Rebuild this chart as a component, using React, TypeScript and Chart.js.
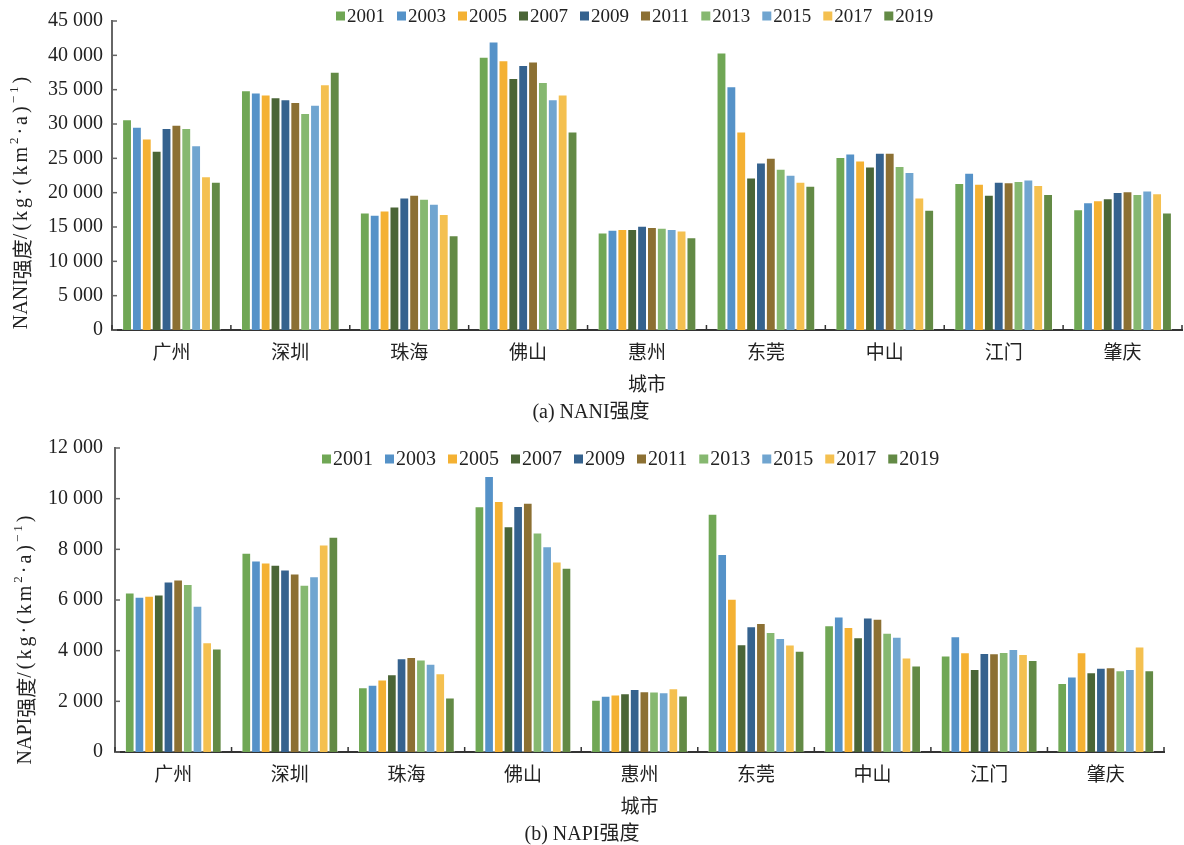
import React, { useEffect, useRef } from 'react';
import { Chart, registerables } from 'chart.js';
Chart.register(...registerables);

const cities = ['广州', '深圳', '珠海', '佛山', '惠州', '东莞', '中山', '江门', '肇庆'];
const years = ['2001', '2003', '2005', '2007', '2009', '2011', '2013', '2015', '2017', '2019'];
const colors = ['#70a755', '#5592c8', '#f4b133', '#4a6536', '#35628e', '#8c7033', '#86b870', '#70a5d0', '#f4c050', '#638a45'];

// NANI intensity, kg/(km²·a) — cities order as above
const nani2001 = [30700, 34900, 17100, 39800, 14200, 40400, 25200, 21400, 17600];
const nani2003 = [29600, 34600, 16800, 42000, 14600, 35500, 25700, 22900, 18600];
const nani2005 = [27900, 34300, 17400, 39300, 14700, 28900, 24700, 21300, 18900];
const nani2007 = [26100, 33900, 18000, 36700, 14700, 22200, 23800, 19700, 19200];
const nani2009 = [29400, 33600, 19300, 38600, 15200, 24400, 25800, 21600, 20100];
const nani2011 = [29900, 33200, 19700, 39100, 15000, 25100, 25800, 21500, 20200];
const nani2013 = [29400, 31600, 19100, 36100, 14900, 23500, 23900, 21700, 19800];
const nani2015 = [26900, 32800, 18400, 33600, 14700, 22600, 23000, 21900, 20300];
const nani2017 = [22400, 35800, 16900, 34300, 14500, 21600, 19300, 21100, 19900];
const nani2019 = [21600, 37600, 13800, 28900, 13500, 21000, 17500, 19800, 17100];
const naniSeries = [nani2001, nani2003, nani2005, nani2007, nani2009, nani2011, nani2013, nani2015, nani2017, nani2019];

// NAPI intensity
const napi2001 = [6300, 7870, 2560, 9700, 2060, 9400, 5000, 3810, 2720];
const napi2003 = [6130, 7560, 2650, 10890, 2220, 7820, 5350, 4570, 2980];
const napi2005 = [6170, 7480, 2860, 9910, 2270, 6050, 4930, 3940, 3940];
const napi2007 = [6220, 7390, 3070, 8910, 2320, 4250, 4530, 3280, 3150];
const napi2009 = [6730, 7200, 3700, 9710, 2490, 4960, 5310, 3910, 3330];
const napi2011 = [6810, 7050, 3750, 9840, 2400, 5090, 5260, 3900, 3350];
const napi2013 = [6630, 6600, 3650, 8660, 2390, 4740, 4710, 3950, 3230];
const napi2015 = [5770, 6940, 3480, 8120, 2360, 4500, 4550, 4070, 3280];
const napi2017 = [4330, 8190, 3110, 7520, 2520, 4240, 3730, 3870, 4160];
const napi2019 = [4090, 8500, 2150, 7270, 2230, 4000, 3410, 3630, 3230];
const napiSeries = [napi2001, napi2003, napi2005, napi2007, napi2009, napi2011, napi2013, napi2015, napi2017, napi2019];

const SERIF = "'Liberation Serif', 'Noto Sans CJK SC', serif";
const CJK = "'Noto Sans CJK SC', 'Liberation Serif', sans-serif";
const TEXT = '#222';

const fmt = (v: number) => String(v).replace(/\B(?=(\d{3})+(?!\d))/g, ' ');

const decorPlugin = {
  id: 'decor',
  afterDraw(chart: any, _args: any, opts: any) {
    const ctx = chart.ctx as CanvasRenderingContext2D;
    const { left, right, bottom } = chart.chartArea;
    ctx.save();
    // inward y ticks
    const ys = chart.scales.y;
    ctx.strokeStyle = '#666';
    ctx.lineWidth = 1.5;
    ys.ticks.forEach((t: any) => {
      const py = ys.getPixelForValue(t.value);
      ctx.beginPath();
      ctx.moveTo(left, py);
      ctx.lineTo(left + 5, py);
      ctx.stroke();
    });
    // inward x ticks at category boundaries
    const n = chart.data.labels.length;
    const w = (right - left) / n;
    ctx.strokeStyle = '#333';
    for (let i = 0; i <= n; i++) {
      const px = left + i * w;
      ctx.beginPath();
      ctx.moveTo(px, bottom);
      ctx.lineTo(px, bottom - 5);
      ctx.stroke();
    }
    // legend
    const fs = opts.legendFont;
    ctx.font = `${fs}px ${SERIF}`;
    ctx.textBaseline = 'middle';
    ctx.textAlign = 'left';
    const box = 9, gap = 2, spacing = opts.legendSpacing;
    const items = chart.data.datasets.map((d: any) => ({ label: d.label, color: d.backgroundColor, w: ctx.measureText(d.label).width }));
    let x = opts.legendX;
    const ly = opts.legendY;
    items.forEach((it: any) => {
      ctx.fillStyle = it.color;
      ctx.fillRect(x, ly - box / 2, box, box);
      x += box + gap;
      ctx.fillStyle = TEXT;
      ctx.fillText(it.label, x, ly + 1);
      x += it.w + spacing;
    });
    // rotated y title
    const parts = opts.titleParts as { t: string; font: string; sup?: boolean; track?: number }[];
    const measure = (p: any) => {
      ctx.font = p.font;
      (ctx as any).letterSpacing = `${p.track || 0}px`;
      return ctx.measureText(p.t).width;
    };
    const widths = parts.map(measure);
    const L = widths.reduce((a, b) => a + b, 0);
    ctx.translate(opts.titleX, opts.titleY);
    ctx.rotate(-Math.PI / 2);
    let tx = -L / 2;
    ctx.fillStyle = TEXT;
    parts.forEach((p, i) => {
      ctx.font = p.font;
      (ctx as any).letterSpacing = `${p.track || 0}px`;
      ctx.fillText(p.t, tx, p.sup ? -6 : 1);
      tx += widths[i];
    });
    ctx.restore();
  },
};

type Geo = { top: number; h: number; left: number; padRight: number; padTop: number; tickPad: number; legendY: number; legendX: number; legendFont: number; legendSpacing: number; titleX: number; titleY: number };

function titleParts(name: string) {
  const fs = 20;
  const tr = 3;
  return [
    { t: name, font: `${fs}px ${SERIF}` },
    { t: '强度', font: `${fs}px ${CJK}` },
    { t: '/(kg·(km', font: `${fs}px ${SERIF}`, track: tr },
    { t: '2', font: `${13}px ${SERIF}`, sup: true, track: tr },
    { t: '·a)', font: `${fs}px ${SERIF}`, track: tr },
    { t: '−1', font: `${13}px ${SERIF}`, sup: true, track: tr },
    { t: ')', font: `${fs}px ${SERIF}` },
  ];
}

function BarChart({ series, yMax, yStep, name, caption, geo }: { series: number[][]; yMax: number; yStep: number; name: string; caption: string; geo: Geo }) {
  const ref = useRef<HTMLCanvasElement>(null);
  useEffect(() => {
    const chart = new Chart(ref.current as HTMLCanvasElement, {
      type: 'bar',
      data: {
        labels: cities,
        datasets: years.map((yr, i) => ({
          label: yr,
          data: series[i],
          backgroundColor: colors[i],
          borderColor: 'rgba(255,255,255,0.55)',
          borderWidth: 1,
          categoryPercentage: 0.83,
          barPercentage: 1,
        })),
      },
      options: {
        responsive: false,
        animation: false,
        devicePixelRatio: 1,
        layout: { padding: { left: 0, right: geo.padRight, top: geo.padTop, bottom: 0 } },
        plugins: {
          legend: { display: false },
          tooltip: { enabled: false },
          title: {
            display: true,
            position: 'bottom',
            text: caption,
            color: TEXT,
            font: { family: SERIF, size: 20, weight: 'normal' },
            padding: { top: 4, bottom: 0 },
          },
          decor: {
            legendY: geo.legendY,
            legendX: geo.legendX,
            legendFont: geo.legendFont,
            legendSpacing: geo.legendSpacing,
            titleX: geo.titleX,
            titleY: geo.titleY,
            titleParts: titleParts(name),
          },
        } as any,
        scales: {
          x: {
            grid: { display: false, drawTicks: false },
            border: { display: true, color: '#333', width: 2 },
            ticks: { color: TEXT, font: { family: CJK, size: 19 }, padding: 10 },
            title: { display: true, text: '城市', color: TEXT, font: { family: CJK, size: 19 }, padding: { top: 0, bottom: 2 } },
            afterFit: (s: any) => { s.height = 67; },
          },
          y: {
            min: 0,
            max: yMax,
            grid: { display: false, drawTicks: false },
            border: { display: true, color: '#666', width: 2 },
            ticks: { stepSize: yStep, color: TEXT, font: { family: SERIF, size: 20 }, padding: geo.tickPad, callback: (v: any) => fmt(Number(v)) },
            afterFit: (s: any) => { s.width = geo.left; },
          },
        } as any,
      },
      plugins: [decorPlugin as any],
    });
    return () => chart.destroy();
  }, []);
  return (
    <canvas
      ref={ref}
      width={1184}
      height={geo.h}
      style={{ position: 'absolute', left: 0, top: geo.top, display: 'block', width: 1184, height: geo.h }}
    />
  );
}

const geo1: Geo = { top: 0, h: 425, left: 112, padRight: 2, padTop: 18, tickPad: 9, legendY: 16, legendX: 336, legendFont: 19, legendSpacing: 12, titleX: 21, titleY: 203 };
const geo2: Geo = { top: 422, h: 425, left: 115, padRight: 20, padTop: 26, tickPad: 12, legendY: 37, legendX: 322, legendFont: 20, legendSpacing: 12, titleX: 25, titleY: 218 };

export default function App() {
  return (
    <div style={{ position: 'absolute', left: 0, top: 0, width: 1184, height: 845, background: '#fff', overflow: 'hidden' }}>
      <BarChart series={naniSeries} yMax={45000} yStep={5000} name="NANI" caption="(a) NANI强度" geo={geo1} />
      <BarChart series={napiSeries} yMax={12000} yStep={2000} name="NAPI" caption="(b) NAPI强度" geo={geo2} />
    </div>
  );
}
